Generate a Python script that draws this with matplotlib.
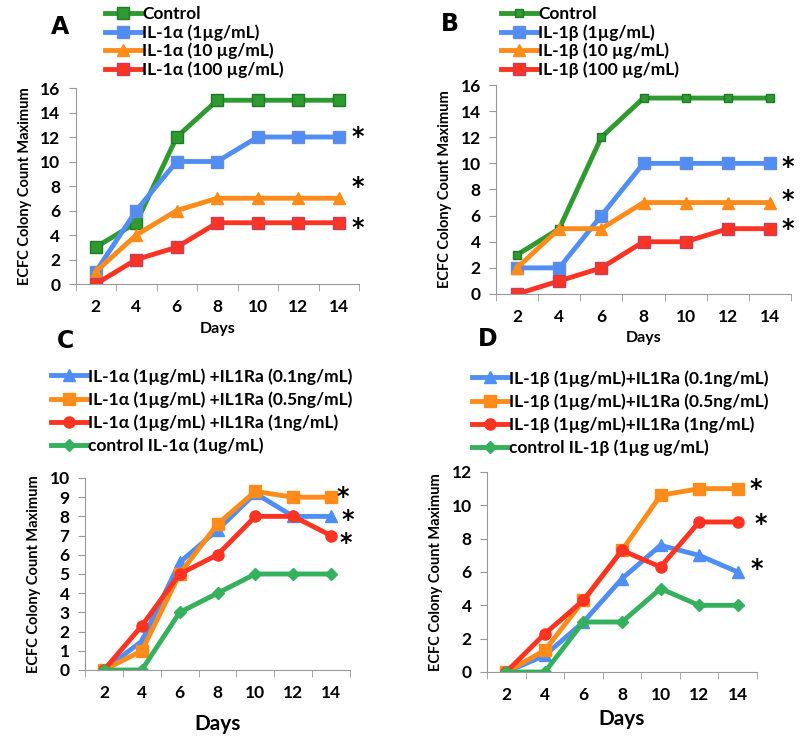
import numpy as np
import matplotlib
matplotlib.use("Agg")
import matplotlib.pyplot as plt

plt.rcParams['font.family'] = ['Lato', 'DejaVu Sans']
plt.rcParams['font.weight'] = 'bold'

days = [2, 4, 6, 8, 10, 12, 14]

# panel A - IL-1alpha
a_control = [3, 5, 12, 15, 15, 15, 15]
a_1 = [1, 6, 10, 10, 12, 12, 12]
a_10 = [1, 4, 6, 7, 7, 7, 7]
a_100 = [0, 2, 3, 5, 5, 5, 5]
a_labels = ['Control', 'IL-1\u03b1 (1\u00b5g/mL)', 'IL-1\u03b1 (10 \u00b5g/mL)', 'IL-1\u03b1 (100 \u00b5g/mL)']
a_stars = [12, 7.9, 4.6]

# panel B - IL-1beta
b_control = [3, 5, 12, 15, 15, 15, 15]
b_1 = [2, 2, 6, 10, 10, 10, 10]
b_10 = [2, 5, 5, 7, 7, 7, 7]
b_100 = [0, 1, 2, 4, 4, 5, 5]
b_labels = ['Control', 'IL-1\u03b2 (1\u00b5g/mL)', 'IL-1\u03b2 (10 \u00b5g/mL)', 'IL-1\u03b2 (100 \u00b5g/mL)']
b_stars = [9.7, 7.2, 5.0]

# panel C - IL-1alpha + IL1Ra
c_01 = [0, 1.5, 5.6, 7.3, 9.2, 8, 8]
c_05 = [0, 1, 5, 7.6, 9.3, 9, 9]
c_1 = [0, 2.3, 5, 6, 8, 8, 7]
c_control = [0, 0, 3, 4, 5, 5, 5]
c_labels = ['IL-1\u03b1 (1\u00b5g/mL) +IL1Ra (0.1ng/mL)', 'IL-1\u03b1 (1\u00b5g/mL) +IL1Ra (0.5ng/mL)',
            'IL-1\u03b1 (1\u00b5g/mL) +IL1Ra (1ng/mL)', 'control IL-1\u03b1 (1ug/mL)']
c_stars = [9.0, 7.8, 6.6]

# panel D - IL-1beta + IL1Ra
d_01 = [0, 1, 3, 5.6, 7.6, 7, 6]
d_05 = [0, 1.3, 4.3, 7.3, 10.6, 11, 11]
d_1 = [0, 2.3, 4.3, 7.3, 6.3, 9, 9]
d_control = [0, 0, 3, 3, 5, 4, 4]
d_labels = ['IL-1\u03b2 (1\u00b5g/mL)+IL1Ra (0.1ng/mL)', 'IL-1\u03b2 (1\u00b5g/mL)+IL1Ra (0.5ng/mL)',
            'IL-1\u03b2 (1\u00b5g/mL)+IL1Ra (1ng/mL)', 'control IL-1\u03b2 (1\u00b5g ug/mL)']
d_stars = [11.0, 8.9, 6.2]

GREEN = '#2f9a2f'
GREEN2 = '#35b05c'
BLUE = '#4f8ef5'
ORANGE = '#ff8c1a'
RED = '#ff3322'

W, H = 800, 740
fig = plt.figure(figsize=(8, 7.4), dpi=100)


def box(l, r, t, b):
    return [l / W, 1 - b / H, (r - l) / W, (b - t) / H]


def setup(ax, ymax, ystep, tickfs, xlab_fs, xlab_pad):
    x = np.arange(len(days))
    ax.set_xlim(-0.5, len(days) - 0.5)
    ax.set_ylim(0, ymax)
    ax.set_xticks(x)
    ax.set_xticklabels([str(d) for d in days], fontsize=tickfs, fontweight='bold')
    ax.set_xticks(np.arange(-0.5, len(days)), minor=True)
    ax.tick_params(axis='x', which='major', length=0, pad=11)
    ax.tick_params(axis='x', which='minor', length=5, color='#999999', direction='out')
    ax.set_yticks(np.arange(0, ymax + 0.1, ystep))
    ax.tick_params(axis='y', length=5, color='#999999', labelsize=tickfs, pad=6)
    for t in ax.get_yticklabels():
        t.set_fontweight('bold')
    ax.spines['top'].set_visible(False)
    ax.spines['right'].set_visible(False)
    ax.spines['left'].set_color('#999999')
    ax.spines['bottom'].set_color('#999999')
    ax.set_xlabel('Days', fontsize=xlab_fs, fontweight='bold', labelpad=xlab_pad)
    ax.set_ylabel('ECFC Colony Count Maximum', fontsize=10.5, fontweight='bold', labelpad=6)
    return x


def stars(ax, xs, ys):
    for xv, yv in zip(xs, ys):
        ax.text(xv, yv, '*', fontsize=17, fontweight='bold', ha='center', va='center',
                family='DejaVu Sans', clip_on=False)


def legend(ax, handles, labels, left, top, fs, spacing):
    ax.legend(handles, labels, loc='upper left', bbox_to_anchor=(left / W, 1 - top / H),
              bbox_transform=fig.transFigure, frameon=False,
              handlelength=2.1, handletextpad=0.05, borderpad=0, borderaxespad=0,
              labelspacing=spacing, prop={'weight': 'bold', 'size': fs})


# ---- A
ax = fig.add_axes(box(75.5, 359, 88, 284))
x = setup(ax, 16, 2, 12.5, 11.5, 5)
hs = []
hs += ax.plot(x, a_control, color=GREEN, lw=3.5, marker='s', ms=8, mec='#1f7a2a')
hs += ax.plot(x, a_1, color=BLUE, lw=3.5, marker='s', ms=8, mec='#6a8bd8')
hs += ax.plot(x, a_10, color=ORANGE, lw=3.5, marker='^', ms=8, mec=ORANGE)
hs += ax.plot(x, a_100, color=RED, lw=3.5, marker='s', ms=8, mec='#c04060')
stars(ax, [6.47, 6.47, 6.47], a_stars)
legend(ax, hs, a_labels, 105, 6, 12.5, 0.12)
fig.text(60 / W, 1 - 27 / H, 'A', fontsize=17, fontweight='bold', ha='center', va='center',
         family='DejaVu Sans')

# ---- B
ax = fig.add_axes(box(496, 791, 85, 294))
x = setup(ax, 16, 2, 12.5, 11.5, 4)
hs = []
hs += ax.plot(x, b_control, color=GREEN, lw=3.5, marker='s', ms=6, mec='#1f7a2a')
hs += ax.plot(x, b_1, color=BLUE, lw=3.5, marker='s', ms=8, mec='#6a8bd8')
hs += ax.plot(x, b_10, color=ORANGE, lw=3.5, marker='^', ms=8, mec=ORANGE)
hs += ax.plot(x, b_100, color=RED, lw=3.5, marker='s', ms=8, mec='#c04060')
stars(ax, [6.42, 6.42, 6.42], b_stars)
legend(ax, hs, b_labels, 501, 6, 12.5, 0.12)
fig.text(450 / W, 1 - 24 / H, 'B', fontsize=17, fontweight='bold', ha='center', va='center',
         family='DejaVu Sans')

# ---- C
ax = fig.add_axes(box(85, 350, 478, 670))
x = setup(ax, 10, 1, 12.5, 15, 9)
hs = []
hs += ax.plot(x, c_01, color=BLUE, lw=3.5, marker='^', ms=8)
hs += ax.plot(x, c_05, color=ORANGE, lw=3.5, marker='s', ms=8)
hs += ax.plot(x, c_1, color=RED, lw=3.5, marker='o', ms=8)
hs += ax.plot(x, c_control, color=GREEN2, lw=3.5, marker='D', ms=6)
stars(ax, [6.32, 6.43, 6.4], c_stars)
legend(ax, hs, c_labels, 51, 368, 12.5, 0.38)
fig.text(66 / W, 1 - 341 / H, 'C', fontsize=17, fontweight='bold', ha='center', va='center',
         family='DejaVu Sans')

# ---- D
ax = fig.add_axes(box(487, 757, 472, 672))
x = setup(ax, 12, 2, 12.5, 15, 4)
hs = []
hs += ax.plot(x, d_01, color=BLUE, lw=3.5, marker='^', ms=8)
hs += ax.plot(x, d_05, color=ORANGE, lw=3.5, marker='s', ms=8)
hs += ax.plot(x, d_1, color=RED, lw=3.5, marker='o', ms=8)
hs += ax.plot(x, d_control, color=GREEN2, lw=3.5, marker='D', ms=6)
stars(ax, [6.46, 6.6, 6.5], d_stars)
legend(ax, hs, d_labels, 472, 370, 12.5, 0.38)
fig.text(488 / W, 1 - 339 / H, 'D', fontsize=17, fontweight='bold', ha='center', va='center',
         family='DejaVu Sans')

fig.savefig('out.png', dpi=100)
